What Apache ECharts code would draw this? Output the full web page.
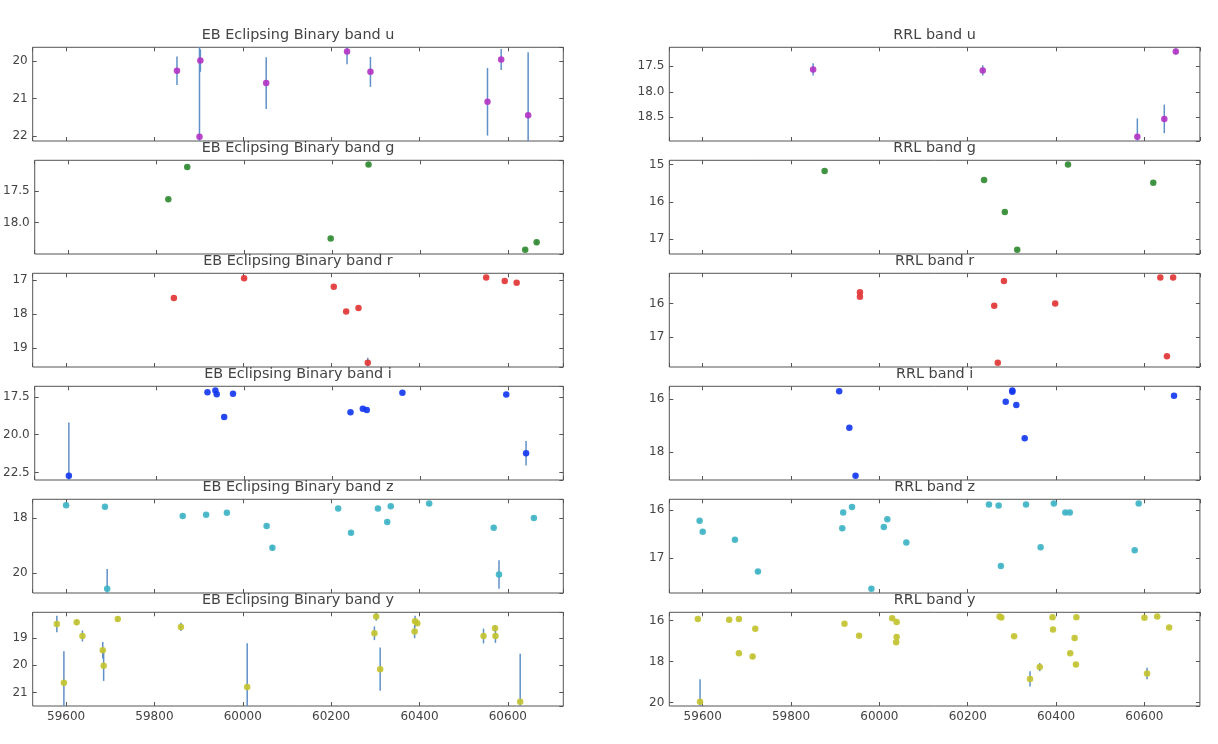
<!DOCTYPE html>
<html>
<head>
<meta charset="utf-8">
<script src="https://cdn.jsdelivr.net/npm/echarts@6/dist/echarts.min.js"></script>
<style>
html, body { margin: 0; padding: 0; background: #fff; }
#chart { width: 1218px; height: 744px; }
</style>
</head>
<body>
<div id="chart"></div>
<script>
// 관측값: [MJD, 등급(mag), 오차]
var ebU = [[59851, 20.26, 0.38], [59904, 19.99, 0.30], [59902, 22.02, 2.6], [60053, 20.59, 0.69],
	[60236, 19.75, 0.34], [60289, 20.29, 0.40], [60554, 21.09, 0.90], [60585, 19.96, 0.28], [60646, 21.45, 1.68]];
var ebG = [[59828, 17.63, 0.02], [59871, 17.12, 0.02], [60197, 18.25, 0.02], [60283, 17.08, 0.02],
	[60639, 18.43, 0.02], [60665, 18.31, 0.04]];
var ebR = [[59844, 17.52, 0.02], [60003, 16.94, 0.02], [60206, 17.19, 0.02], [60234, 17.92, 0.03],
	[60262, 17.82, 0.02], [60283, 19.43, 0.15], [60551, 16.92, 0.02], [60593, 17.02, 0.02], [60620, 17.07, 0.02]];
var ebI = [[59602, 22.70, 3.5], [59917, 17.20, 0.05], [59935, 17.09, 0.05], [59938, 17.33, 0.05],
	[59955, 18.83, 0.08], [59975, 17.30, 0.05], [60242, 18.52, 0.06], [60270, 18.28, 0.05],
	[60279, 18.37, 0.05], [60360, 17.24, 0.04], [60596, 17.35, 0.05], [60641, 21.22, 0.8]];
var ebZ = [[59600, 17.53, 0.03], [59688, 17.59, 0.03], [59693, 20.57, 0.72], [59864, 17.92, 0.03],
	[59917, 17.88, 0.03], [59964, 17.80, 0.03], [60054, 18.29, 0.04], [60067, 19.08, 0.1],
	[60216, 17.65, 0.03], [60245, 18.53, 0.04], [60306, 17.65, 0.03], [60327, 18.14, 0.04],
	[60335, 17.57, 0.03], [60422, 17.47, 0.03], [60568, 18.35, 0.04], [60580, 20.05, 0.52], [60659, 18.00, 0.03]];
var ebY = [[59579, 18.49, 0.30], [59595, 20.64, 1.15], [59624, 18.43, 0.10], [59637, 18.93, 0.2],
	[59683, 19.45, 0.3], [59685, 20.02, 0.55], [59717, 18.31, 0.1], [59860, 18.60, 0.15],
	[60010, 20.79, 1.6], [60298, 18.83, 0.25], [60302, 18.22, 0.15], [60311, 20.14, 0.79],
	[60389, 18.77, 0.24], [60390, 18.39, 0.2], [60395, 18.46, 0.1], [60545, 18.93, 0.27],
	[60571, 18.65, 0.12], [60572, 18.93, 0.25], [60628, 21.33, 1.75]];

var rrlU = [[59850, 17.56, 0.12], [60234, 17.58, 0.10], [60584, 18.88, 0.36], [60645, 18.53, 0.28], [60671, 17.21, 0.06]];
var rrlG = [[59876, 15.17, 0.02], [60237, 15.41, 0.02], [60284, 16.27, 0.02], [60312, 17.28, 0.03],
	[60427, 15.00, 0.02], [60620, 15.49, 0.02]];
var rrlR = [[59956, 15.67, 0.02], [59956, 15.80, 0.02], [60260, 16.07, 0.02], [60268, 17.77, 0.03],
	[60282, 15.33, 0.02], [60398, 16.00, 0.02], [60636, 15.23, 0.02], [60651, 17.58, 0.03], [60665, 15.23, 0.02]];
var rrlI = [[59909, 15.70, 0.02], [59932, 17.08, 0.03], [59946, 18.91, 0.06], [60286, 16.10, 0.02],
	[60301, 15.67, 0.02], [60301, 15.72, 0.02], [60310, 16.22, 0.02], [60329, 17.48, 0.03], [60667, 15.87, 0.02]];
var rrlZ = [[59593, 16.22, 0.02], [59600, 16.45, 0.02], [59673, 16.62, 0.02], [59725, 17.29, 0.04],
	[59918, 16.05, 0.02], [59916, 16.38, 0.02], [59938, 15.93, 0.02], [59982, 17.65, 0.03],
	[60010, 16.35, 0.02], [60018, 16.19, 0.02], [60061, 16.68, 0.02], [60248, 15.88, 0.02],
	[60270, 15.90, 0.02], [60275, 17.17, 0.03], [60332, 15.88, 0.02], [60365, 16.78, 0.02],
	[60395, 15.86, 0.02], [60421, 16.05, 0.02], [60431, 16.05, 0.02], [60578, 16.84, 0.02], [60587, 15.86, 0.02]];
var rrlY = [[59589, 15.93, 0.03], [59594, 19.96, 1.1], [59660, 15.97, 0.03], [59682, 15.93, 0.03],
	[59682, 17.60, 0.05], [59713, 17.76, 0.1], [59719, 16.40, 0.04], [59921, 16.16, 0.03],
	[59954, 16.74, 0.04], [60029, 15.89, 0.03], [60039, 16.08, 0.03], [60039, 16.81, 0.04],
	[60038, 17.06, 0.05], [60272, 15.81, 0.03], [60276, 15.85, 0.03], [60305, 16.77, 0.04],
	[60341, 18.85, 0.37], [60363, 18.27, 0.2], [60392, 15.84, 0.03], [60393, 16.44, 0.04],
	[60432, 17.60, 0.05], [60442, 16.85, 0.04], [60445, 18.15, 0.06], [60446, 15.84, 0.03],
	[60600, 15.87, 0.03], [60606, 18.58, 0.28], [60629, 15.81, 0.03], [60656, 16.34, 0.04]];

var bandColors = { u: '#b232c4', g: '#2f8a2f', r: '#e23333', i: '#1236f0', z: '#3cb3c4', y: '#c3c32c' };

// 패널 목록 (왼쪽 EB, 오른쪽 RRL)
var panels = [
	{ title: 'EB Eclipsing Binary band u', data: ebU, band: 'u', step: 1, dec: 0 },
	{ title: 'EB Eclipsing Binary band g', data: ebG, band: 'g', step: 0.5, dec: 1 },
	{ title: 'EB Eclipsing Binary band r', data: ebR, band: 'r', step: 1, dec: 0 },
	{ title: 'EB Eclipsing Binary band i', data: ebI, band: 'i', step: 2.5, dec: 1 },
	{ title: 'EB Eclipsing Binary band z', data: ebZ, band: 'z', step: 2, dec: 0 },
	{ title: 'EB Eclipsing Binary band y', data: ebY, band: 'y', step: 1, dec: 0 },
	{ title: 'RRL band u', data: rrlU, band: 'u', step: 0.5, dec: 1 },
	{ title: 'RRL band g', data: rrlG, band: 'g', step: 1, dec: 0 },
	{ title: 'RRL band r', data: rrlR, band: 'r', step: 1, dec: 0 },
	{ title: 'RRL band i', data: rrlI, band: 'i', step: 2, dec: 0 },
	{ title: 'RRL band z', data: rrlZ, band: 'z', step: 1, dec: 0 },
	{ title: 'RRL band y', data: rrlY, band: 'y', step: 2, dec: 0 }
];

var colLeft = [32.7, 669.3];
var panelW = 530.6;
var rowTop = [47.3, 160.3, 273.3, 386.3, 499.3, 612.3];
var panelH = 93.7;
var fontName = 'DejaVu Sans';
var frameColor = '#555';
var textColor = '#444';

// matplotlib 기본 여백(5%)
function padExtent(values) {
	var lo = Math.min.apply(null, values);
	var hi = Math.max.apply(null, values);
	var m = (hi - lo) * 0.05;
	return [lo - m, hi + m];
}

var allX = [];
panels.forEach(function(p) {
	p.data.forEach(function(d) { allX.push(d[0]); });
});
var xExt = padExtent(allX);

var grids = [], xAxes = [], yAxes = [], titles = [], series = [];

panels.forEach(function(p, i) {
	var col = i < 6 ? 0 : 1;
	var row = i % 6;
	var yExt = padExtent(p.data.map(function(d) { return d[1]; }));

	grids.push({
		left: colLeft[col], top: rowTop[row], width: panelW, height: panelH,
		show: true, borderColor: frameColor, borderWidth: 1, backgroundColor: '#fff'
	});

	titles.push({
		text: p.title,
		left: colLeft[col] + panelW / 2,
		top: rowTop[row] - 19,
		textAlign: 'center',
		padding: 0,
		textStyle: { fontFamily: fontName, fontSize: 14.4, fontWeight: 'normal', color: textColor }
	});

	['bottom', 'top'].forEach(function(pos) {
		xAxes.push({
			type: 'value', gridIndex: i, position: pos,
			min: xExt[0], max: xExt[1],
			minInterval: 200, maxInterval: 200,
			axisLine: { show: false },
			splitLine: { show: false },
			axisTick: { inside: true, length: 4, lineStyle: { color: frameColor } },
			axisLabel: {
				show: pos === 'bottom' && row === 5,
				showMinLabel: false, showMaxLabel: false,
				margin: 5, color: textColor, fontFamily: fontName, fontSize: 12,
				formatter: function(v) { return String(Math.round(v)); }
			}
		});
	});

	['left', 'right'].forEach(function(pos) {
		yAxes.push({
			type: 'value', gridIndex: i, position: pos, inverse: true,
			min: yExt[0], max: yExt[1],
			minInterval: p.step, maxInterval: p.step,
			axisLine: { show: false },
			splitLine: { show: false },
			axisTick: { inside: true, length: 4, lineStyle: { color: frameColor } },
			axisLabel: {
				show: pos === 'left',
				showMinLabel: false, showMaxLabel: false,
				margin: 5, color: textColor, fontFamily: fontName, fontSize: 12,
				formatter: function(v) { return v.toFixed(p.dec); }
			}
		});
	});

	// 오차 막대
	series.push({
		type: 'custom',
		xAxisIndex: i * 2, yAxisIndex: i * 2,
		data: p.data,
		encode: { x: 0, y: 1 },
		silent: true,
		z: 1,
		renderItem: function(params, api) {
			var x = api.value(0), y = api.value(1), e = api.value(2);
			var a = api.coord([x, y - e]);
			var b = api.coord([x, y + e]);
			var cs = params.coordSys;
			var y1 = Math.max(Math.min(a[1], b[1]), cs.y);
			var y2 = Math.min(Math.max(a[1], b[1]), cs.y + cs.height);
			return {
				type: 'line',
				shape: { x1: a[0], y1: y1, x2: a[0], y2: y2 },
				style: { stroke: '#6090c8', lineWidth: 1.5 }
			};
		}
	});

	series.push({
		type: 'scatter',
		xAxisIndex: i * 2, yAxisIndex: i * 2,
		data: p.data.map(function(d) { return [d[0], d[1]]; }),
		symbolSize: 6.5,
		z: 2,
		itemStyle: { color: bandColors[p.band], opacity: 0.9 }
	});
});

var chart = echarts.init(document.getElementById('chart'));
chart.setOption({
	animation: false,
	backgroundColor: '#fff',
	title: titles,
	grid: grids,
	xAxis: xAxes,
	yAxis: yAxes,
	series: series
});
</script>
</body>
</html>
